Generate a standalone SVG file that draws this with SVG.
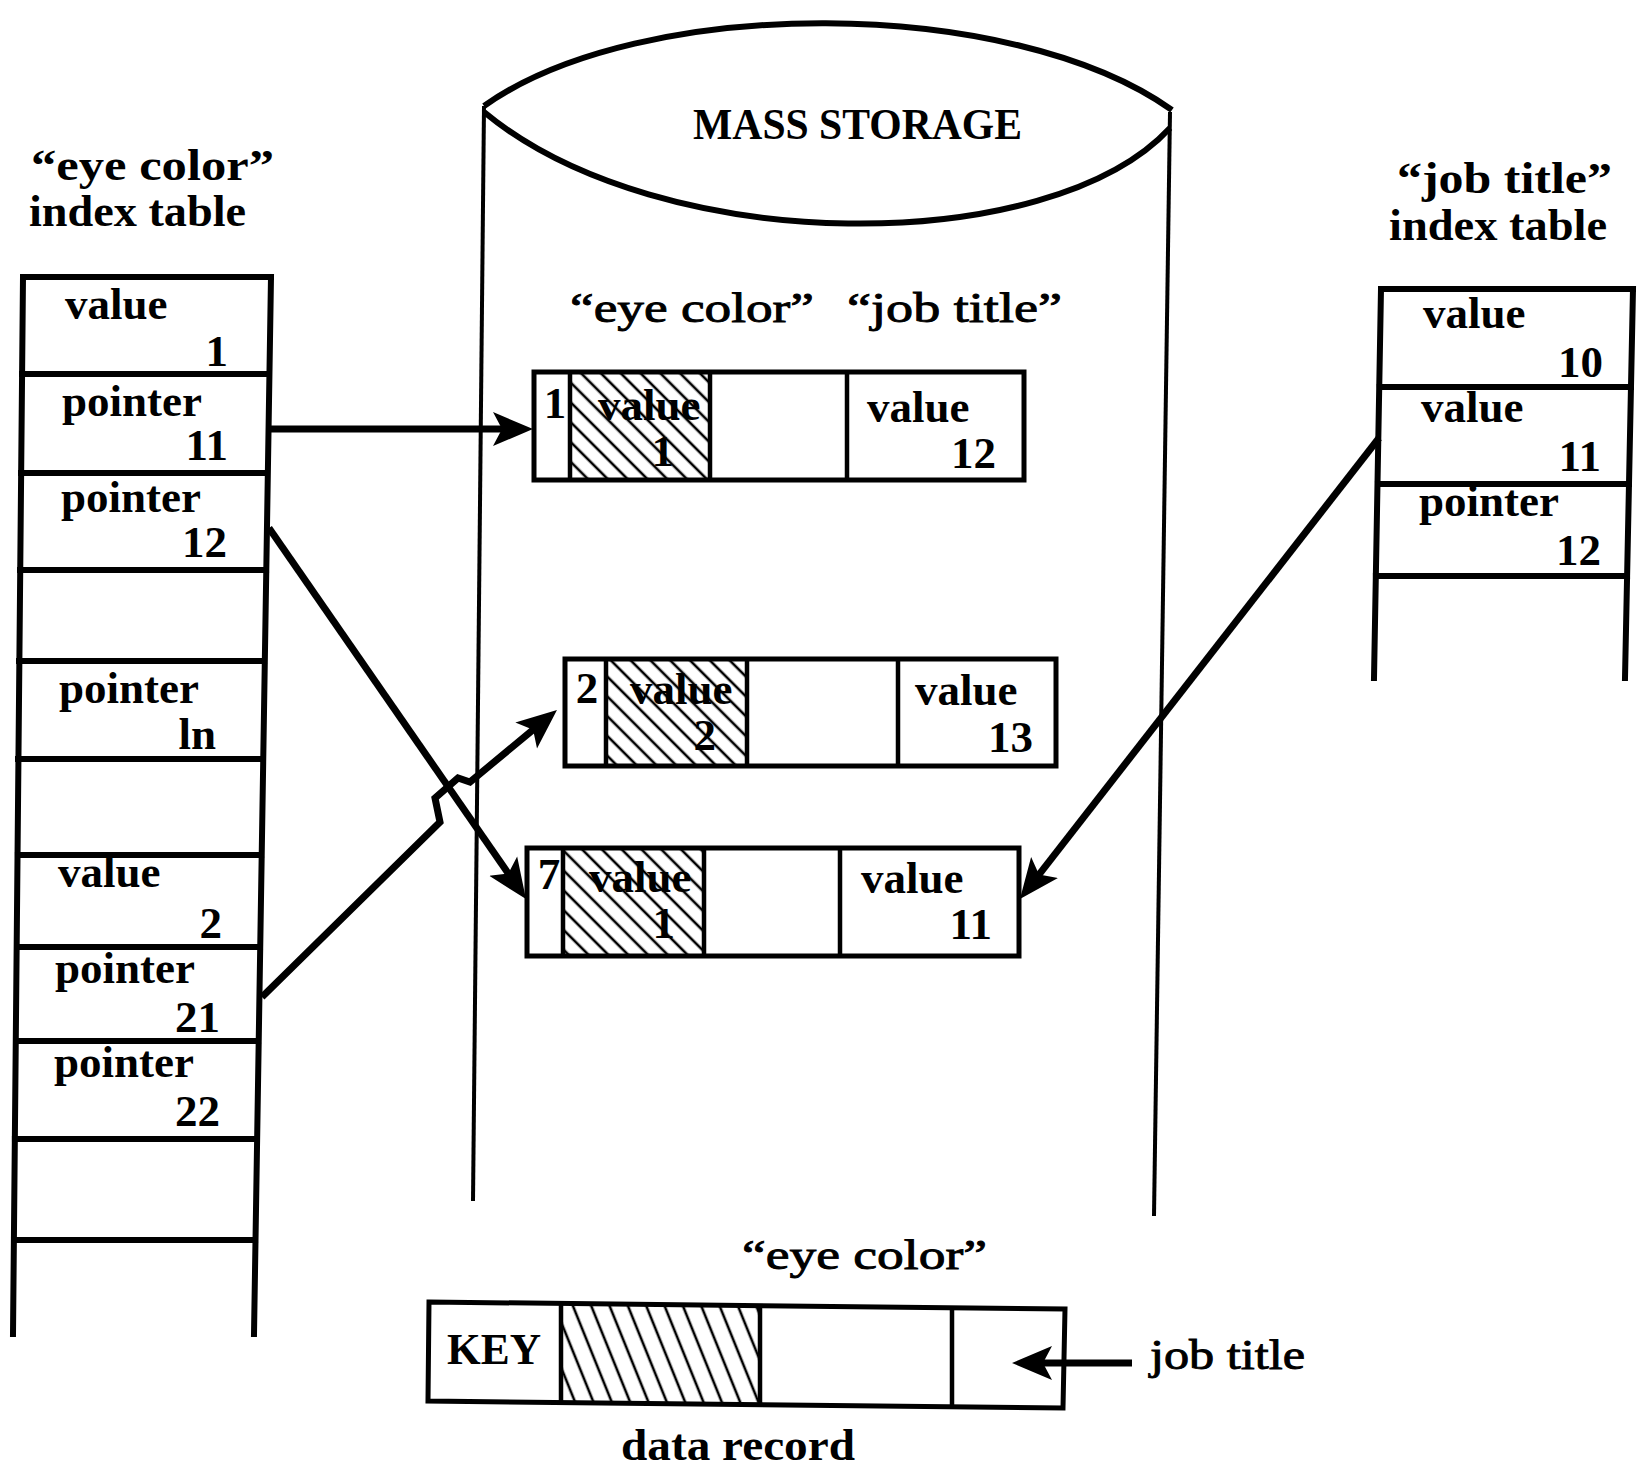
<svg xmlns="http://www.w3.org/2000/svg" width="1641" height="1472" viewBox="0 0 1641 1472">
<style>
.b{font-family:"Liberation Serif",serif;font-weight:bold;font-size:45px;fill:#000}
.t{font-family:"Liberation Serif",serif;font-weight:bold;font-size:44px;fill:#000}
.r{font-family:"Liberation Serif",serif;font-size:42px;fill:#000;stroke:#000;stroke-width:0.9}
.e{text-anchor:end}
.m{text-anchor:middle}
.frame{fill:none;stroke:#000;stroke-width:6;stroke-linecap:square}
.rec{fill:#fff;stroke:#000;stroke-width:5}
.outl{fill:none;stroke:#000;stroke-width:5}
.div{stroke:#000;stroke-width:4.5}
.cyl{fill:none;stroke:#000;stroke-width:4}
.arc{fill:none;stroke:#000;stroke-width:6}
.con{fill:none;stroke:#000;stroke-width:7;stroke-linejoin:miter}
</style>
<defs>
<pattern id="hatch" patternUnits="userSpaceOnUse" width="14" height="14" patternTransform="rotate(-45)">
<line x1="7" y1="0" x2="7" y2="14" stroke="#000" stroke-width="2.6"/>
</pattern>
<pattern id="hatch2" patternUnits="userSpaceOnUse" width="17" height="17" patternTransform="rotate(-22)">
<line x1="8" y1="0" x2="8" y2="17" stroke="#000" stroke-width="2.6"/>
</pattern>
<marker id="ah" markerUnits="userSpaceOnUse" markerWidth="42" markerHeight="38" viewBox="0 0 42 38" refX="16" refY="19" orient="auto">
<path d="M0,2 L40,19 L0,36 L9,19 Z" fill="#000"/>
</marker>
</defs>
<rect width="1641" height="1472" fill="#fff"/>

<g id="mass-storage">
<path class="arc" d="M484,106 C640,-5 1010,-5 1172,110"/>
<path class="arc" d="M484,112 C660,258 1050,258 1170,128"/>
<path class="cyl" d="M484,106 L473,1201"/>
<path class="cyl" d="M1170,112 L1154,1216"/>
<text class="t" x="693" y="139" font-size="46" textLength="329" lengthAdjust="spacingAndGlyphs">MASS STORAGE</text>
<text class="r" x="570" y="322" textLength="244" lengthAdjust="spacingAndGlyphs">“eye color”</text>
<text class="r" x="847" y="322" textLength="215" lengthAdjust="spacingAndGlyphs">“job title”</text>
</g>

<g id="eye-color-index-table">
<text class="t" x="31" y="180" textLength="243" lengthAdjust="spacingAndGlyphs">“eye color”</text>
<text class="t" x="29" y="226" textLength="217" lengthAdjust="spacingAndGlyphs">index table</text>
<path class="frame" d="M23,277 L13,1334 M271,277 L254,1334
M23,277 H271 M22,374 H269.4 M21,473 H267.8 M20,570 H266.3 M19,661 H264.8 M18,759 H263.2
M17.5,855 H261.7 M16.7,947 H260.2 M15.8,1041 H258.7 M14.8,1139 H257.1 M13.9,1240 H255.5"/>
<text class="b" x="65" y="319">value</text>
<text class="b e" x="228" y="366">1</text>
<text class="b" x="62" y="416">pointer</text>
<text class="b e" x="228" y="460">11</text>
<text class="b" x="61" y="512">pointer</text>
<text class="b e" x="227" y="557">12</text>
<text class="b" x="59" y="703">pointer</text>
<text class="b e" x="216" y="749">ln</text>
<text class="b" x="58" y="887">value</text>
<text class="b e" x="222" y="938">2</text>
<text class="b" x="55" y="983">pointer</text>
<text class="b e" x="220" y="1032">21</text>
<text class="b" x="54" y="1077">pointer</text>
<text class="b e" x="220" y="1126">22</text>
</g>

<g id="job-title-index-table">
<text class="t" x="1397" y="193" textLength="215" lengthAdjust="spacingAndGlyphs">“job title”</text>
<text class="t" x="1389" y="240" textLength="218" lengthAdjust="spacingAndGlyphs">index table</text>
<path class="frame" d="M1381,289 L1374,678 M1633,289 L1625,678
M1381,289 H1633 M1379.2,387 H1631 M1377.5,484 H1629 M1375.8,576 H1627.1"/>
<text class="b" x="1423" y="328">value</text>
<text class="b e" x="1603" y="377">10</text>
<text class="b" x="1421" y="422">value</text>
<text class="b e" x="1601" y="471">11</text>
<text class="b" x="1419" y="516">pointer</text>
<text class="b e" x="1601" y="565">12</text>
</g>

<g id="record-1">
<rect class="rec" x="534" y="372" width="490" height="108"/>
<rect x="570" y="372" width="140" height="108" fill="url(#hatch)"/>
<path class="div" d="M570,372 V480 M710,372 V480 M847,372 V480"/>
<text class="b m" x="555" y="418">1</text>
<text class="b" x="598" y="420">value</text>
<text class="b e" x="674" y="466">1</text>
<text class="b" x="867" y="422">value</text>
<text class="b e" x="996" y="468">12</text>
</g>

<g id="record-2">
<rect class="rec" x="565" y="659" width="491" height="107"/>
<rect x="606" y="659" width="141" height="107" fill="url(#hatch)"/>
<path class="div" d="M606,659 V766 M747,659 V766 M898,659 V766"/>
<text class="b m" x="587" y="703">2</text>
<text class="b" x="630" y="704">value</text>
<text class="b e" x="716" y="750">2</text>
<text class="b" x="915" y="705">value</text>
<text class="b e" x="1033" y="752">13</text>
</g>

<g id="record-7">
<rect class="rec" x="527" y="848" width="492" height="108"/>
<rect x="563" y="848" width="141" height="108" fill="url(#hatch)"/>
<path class="div" d="M563,848 V956 M704,848 V956 M840,848 V956"/>
<text class="b m" x="549" y="889">7</text>
<text class="b" x="589" y="892">value</text>
<text class="b e" x="675" y="938">1</text>
<text class="b" x="861" y="893">value</text>
<text class="b e" x="992" y="939">11</text>
</g>

<g id="data-record">
<text class="r" x="742" y="1269" textLength="245" lengthAdjust="spacingAndGlyphs">“eye color”</text>
<path d="M561,1304 L760,1306 L760,1404 L561,1402 Z" fill="url(#hatch2)"/>
<path class="outl" d="M429,1302 L1065,1309 L1063,1408 L428,1401 Z"/>
<path class="div" d="M561,1303 V1402 M760,1305 V1404 M952,1307 V1406"/>
<text class="b" x="447" y="1364" textLength="94" lengthAdjust="spacingAndGlyphs">KEY</text>
<text class="t" x="621" y="1460" textLength="234" lengthAdjust="spacingAndGlyphs">data record</text>
<text class="r" x="1150" y="1369" textLength="155" lengthAdjust="spacingAndGlyphs">job title</text>
</g>

<g id="connectors">
<path class="con" d="M271,429 L509,429" marker-end="url(#ah)"/>
<path class="con" d="M269,528 L512.3,879.3" marker-end="url(#ah)"/>
<path class="con" d="M262,997 L440,822 L435,798 L458,778 L470,782 L538.5,725.3" marker-end="url(#ah)"/>
<path class="con" d="M1379,438 L1034.7,880.1" marker-end="url(#ah)"/>
<path class="con" stroke-width="8" d="M1132,1363 L1036,1363" marker-end="url(#ah)"/>
</g>
</svg>
